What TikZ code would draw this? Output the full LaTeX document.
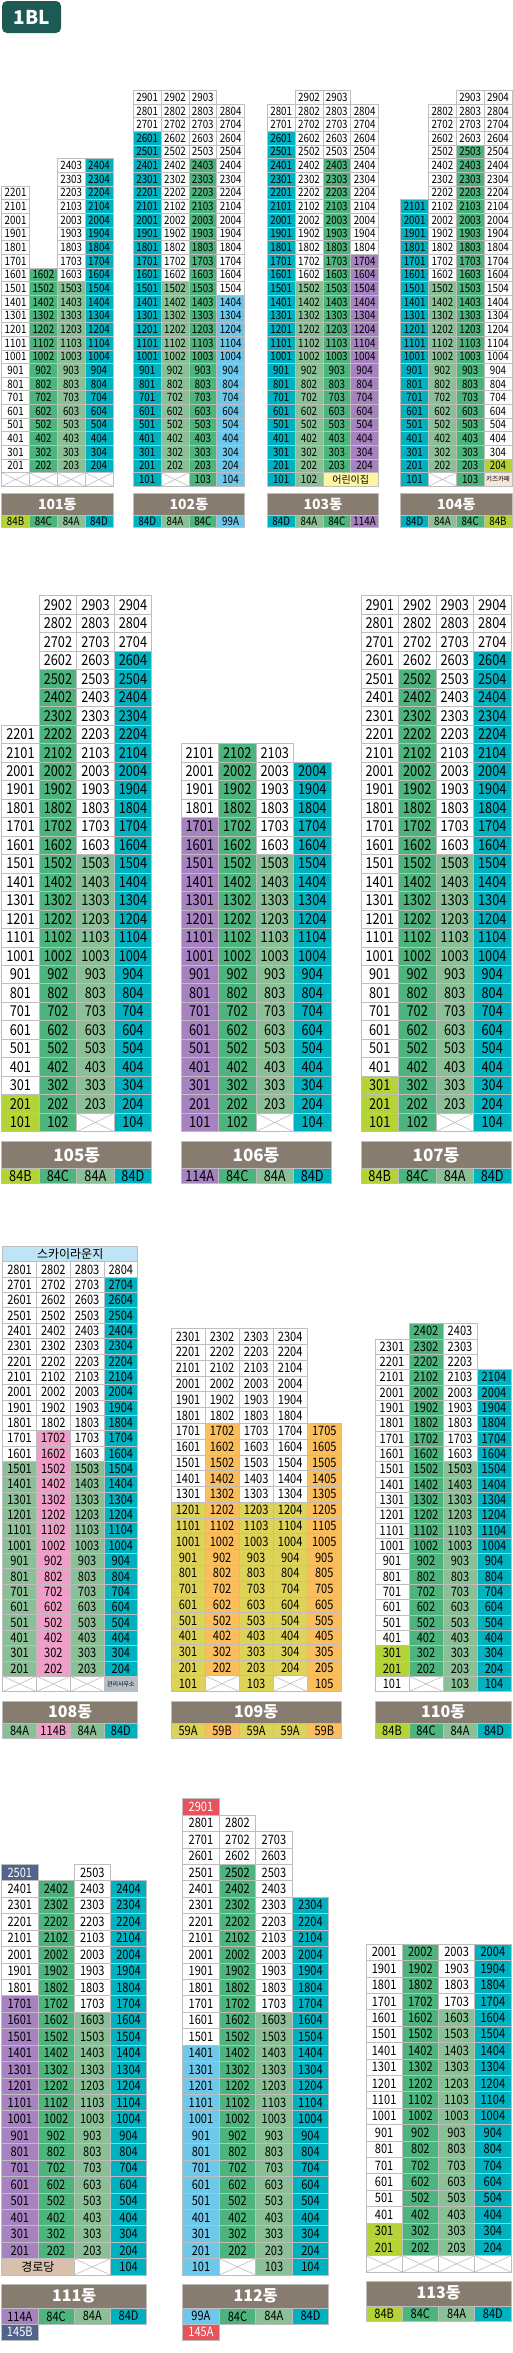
\documentclass[tikz,border=0pt]{standalone}
\usepackage{fontspec}
\setmainfont{Noto Sans CJK KR}
\newfontfamily\numfont[FakeStretch=0.85]{Noto Sans CJK KR}
\usetikzlibrary{positioning}

% unit type colours
\definecolor{t84A}{RGB}{139,191,150}
\definecolor{t84B}{RGB}{180,211,55}
\definecolor{t84C}{RGB}{76,180,124}
\definecolor{t84D}{RGB}{0,177,192}
\definecolor{t99A}{RGB}{110,200,235}
\definecolor{t114A}{RGB}{166,130,192}
\definecolor{t114B}{RGB}{240,157,200}
\definecolor{t59A}{RGB}{221,211,88}
\definecolor{t59B}{RGB}{250,190,92}
\definecolor{t145A}{RGB}{232,82,90}
\definecolor{t145B}{RGB}{80,100,140}
\definecolor{cellline}{RGB}{190,190,190}
\definecolor{dongbg}{RGB}{135,124,112}
\definecolor{badgebg}{RGB}{30,90,84}
\definecolor{daycare}{RGB}{255,245,160}
\definecolor{kidscafe}{RGB}{248,230,220}
\definecolor{seniors}{RGB}{216,192,172}
\definecolor{lounge}{RGB}{190,228,246}
\definecolor{office}{RGB}{182,190,198}

% building: id, left x, bottom y, cell width, cell height, columns, font size
\newcommand\bset[7]{\def\bid{#1}\def\bx{#2}\def\by{#3}\def\bw{#4}\def\bh{#5}\def\bn{#6}\def\fs{#7}}
% column of units: column, lowest floor, highest floor, line, colour
\newcommand\ucol[5]{%
  \foreach \f in {#2,...,#3}{%
    \node[unit=#5] (u\bid-\f#4) at ({\bx+(#1-0.5)*\bw},{\by-(\f-0.5)*\bh}) {\f#4};}}
% crossed out (pilotis) cell: column, floor
\newcommand\xcell[2]{%
  \node[unit=white] (x\bid-#2-#1) at ({\bx+(#1-0.5)*\bw},{\by-(#2-0.5)*\bh}) {};
  \draw[xline] (x\bid-#2-#1.north west) -- (x\bid-#2-#1.south east)
               (x\bid-#2-#1.south west) -- (x\bid-#2-#1.north east);}
% cell over several columns: first col, last col, floor, colour, text
\newcommand\scell[5]{%
  \pgfmathsetmacro\spanw{(#2-#1+1)*\bw}
  \node[unit=#4,minimum width=\spanw pt] (s\bid-#3#1) at ({\bx+(#1+#2-1)/2*\bw},{\by-(#3-0.5)*\bh}) {#5};}
% building label: text, top, height, font size
\newcommand\dong[4]{%
  \pgfmathsetmacro\labw{\bn*\bw}
  \node[donglabel,minimum width=\labw pt,minimum height=#3 pt,
        font=\bfseries\fontsize{#4}{#4}\selectfont] (d\bid) at ({\bx+\labw/2},{#2+#3/2}) {#1};}
% row of unit types: top, height, list
\newcommand\types[3]{%
  \foreach \tp [count=\i] in {#3}{%
    \node[typebox=t\tp,minimum height=#2 pt] (t\bid-\i) at ({\bx+(\i-0.5)*\bw},{#1+#2/2}) {\tp};}}

\begin{document}
\begin{tikzpicture}[x=1pt,y=-1pt]
\tikzset{
    %one apartment unit
    unit/.style={
           rectangle,
           draw=cellline, line width=0.6pt,
           fill=#1,
           inner sep=0pt, outer sep=0pt,
           minimum width=\bw pt,
           minimum height=\bh pt,
           font=\numfont\fontsize{\fs}{\fs}\selectfont},
    %cross in empty cells
    xline/.style={draw=cellline, line width=0.6pt},
    %building name bar
    donglabel/.style={
           rectangle,
           draw=cellline, line width=0.6pt,
           fill=dongbg, text=white,
           inner sep=0pt, outer sep=0pt},
    %unit type boxes under the name
    typebox/.style={
           unit=#1,
           minimum height=12pt},
    badge/.style={
           rectangle,
           rounded corners=5pt,
           fill=badgebg, text=white,
           minimum width=59pt,
           minimum height=32pt,
           font=\bfseries\fontsize{19}{19}\selectfont}
}
\useasboundingbox (0,0) rectangle (512,2353);

\node[badge] (bl) at (31.5,17) {1BL};

%%%% 101
\bset{101}{1.7}{486.3}{27.8}{13.65}{4}{11.5}
\ucol{1}{2}{22}{01}{white}
\ucol{2}{2}{16}{02}{t84C}
\ucol{3}{16}{24}{03}{white}
\ucol{3}{2}{15}{03}{t84A}
\ucol{4}{2}{24}{04}{t84D}
\foreach \col in {1,...,4}{\xcell{\col}{1}}
\dong{101동}{493.3}{22}{14}
\types{515.3}{12}{84B,84C,84A,84D}

%%%% 102
\bset{102}{133.3}{486.3}{27.8}{13.65}{4}{11.5}
\ucol{1}{27}{29}{01}{white}
\ucol{1}{1}{26}{01}{t84D}
\ucol{2}{16}{29}{02}{white}
\ucol{2}{2}{15}{02}{t84A}
\xcell{2}{1}
\ucol{3}{25}{29}{03}{white}
\ucol{3}{1}{24}{03}{t84C}
\ucol{4}{15}{28}{04}{white}
\ucol{4}{1}{14}{04}{t99A}
\dong{102동}{493.3}{22}{14}
\types{515.3}{12}{84D,84A,84C,99A}

%%%% 103
\bset{103}{267.3}{486.3}{27.8}{13.65}{4}{11.5}
\ucol{1}{27}{28}{01}{white}
\ucol{1}{1}{26}{01}{t84D}
\ucol{2}{16}{29}{02}{white}
\ucol{2}{1}{15}{02}{t84A}
\ucol{3}{25}{29}{03}{white}
\ucol{3}{2}{24}{03}{t84C}
\ucol{4}{18}{28}{04}{white}
\ucol{4}{2}{17}{04}{t114A}
\scell{3}{4}{1}{daycare,font={\rmfamily\fontsize{10}{10}\selectfont}}{어린이집}
\dong{103동}{493.3}{22}{14}
\types{515.3}{12}{84D,84A,84C,114A}

%%%% 104
\bset{104}{400.7}{486.3}{27.8}{13.65}{4}{11.5}
\ucol{1}{1}{21}{01}{t84D}
\ucol{2}{16}{28}{02}{white}
\ucol{2}{2}{15}{02}{t84A}
\xcell{2}{1}
\ucol{3}{26}{29}{03}{white}
\ucol{3}{1}{25}{03}{t84C}
\ucol{4}{3}{29}{04}{white}
\ucol{4}{2}{2}{04}{t84B}
\scell{4}{4}{1}{kidscafe,font={\rmfamily\fontsize{6.5}{6.5}\selectfont}}{키즈카페}
\dong{104동}{493.3}{22}{14}
\types{515.3}{12}{84D,84A,84C,84B}

%%%% 105
\bset{105}{1.7}{1131.7}{37.5}{18.49}{4}{15}
\ucol{1}{3}{22}{01}{white}
\ucol{1}{1}{2}{01}{t84B}
\ucol{2}{26}{29}{02}{white}
\ucol{2}{1}{25}{02}{t84C}
\ucol{3}{16}{29}{03}{white}
\ucol{3}{2}{15}{03}{t84A}
\xcell{3}{1}
\ucol{4}{27}{29}{04}{white}
\ucol{4}{1}{26}{04}{t84D}
\dong{105동}{1141.4}{27.2}{17}
\types{1168.6}{15}{84B,84C,84A,84D}

%%%% 106
\bset{106}{181}{1131.7}{37.5}{18.49}{4}{15}
\ucol{1}{18}{21}{01}{white}
\ucol{1}{1}{17}{01}{t114A}
\ucol{2}{1}{21}{02}{t84C}
\ucol{3}{16}{21}{03}{white}
\ucol{3}{2}{15}{03}{t84A}
\xcell{3}{1}
\ucol{4}{1}{20}{04}{t84D}
\dong{106동}{1141.4}{27.2}{17}
\types{1168.6}{15}{114A,84C,84A,84D}

%%%% 107
\bset{107}{361}{1131.7}{37.5}{18.49}{4}{15}
\ucol{1}{4}{29}{01}{white}
\ucol{1}{1}{3}{01}{t84B}
\ucol{2}{26}{29}{02}{white}
\ucol{2}{1}{25}{02}{t84C}
\ucol{3}{16}{29}{03}{white}
\ucol{3}{2}{15}{03}{t84A}
\xcell{3}{1}
\ucol{4}{27}{29}{04}{white}
\ucol{4}{1}{26}{04}{t84D}
\dong{107동}{1141.4}{27.2}{17}
\types{1168.6}{15}{84B,84C,84A,84D}

%%%% 108
\bset{108}{2.7}{1691.5}{33.75}{15.35}{4}{13}
\scell{1}{4}{29}{lounge,font={\rmfamily\fontsize{12}{12}\selectfont}}{스카이라운지}
\ucol{1}{16}{28}{01}{white}
\ucol{1}{2}{15}{01}{t84A}
\ucol{2}{18}{28}{02}{white}
\ucol{2}{2}{17}{02}{t114B}
\ucol{3}{16}{28}{03}{white}
\ucol{3}{2}{15}{03}{t84A}
\ucol{4}{28}{28}{04}{white}
\ucol{4}{2}{27}{04}{t84D}
\foreach \col in {1,2,3}{\xcell{\col}{1}}
\scell{4}{4}{1}{office,font={\rmfamily\fontsize{6}{6}\selectfont}}{관리사무소}
\dong{108동}{1700.9}{22.6}{16}
\types{1723.5}{14.5}{84A,114B,84A,84D}

%%%% 109
\bset{109}{171}{1691.5}{34.06}{15.78}{5}{13}
\ucol{1}{13}{23}{01}{white}
\ucol{1}{1}{12}{01}{t59A}
\ucol{2}{18}{23}{02}{white}
\ucol{2}{2}{17}{02}{t59B}
\xcell{2}{1}
\ucol{3}{13}{23}{03}{white}
\ucol{3}{1}{12}{03}{t59A}
\ucol{4}{13}{23}{04}{white}
\ucol{4}{2}{12}{04}{t59A}
\xcell{4}{1}
\ucol{5}{1}{17}{05}{t59B}
\dong{109동}{1700.9}{22.6}{16}
\types{1723.5}{14.5}{59A,59B,59A,59A,59B}

%%%% 110
\bset{110}{375}{1691.5}{34}{15.33}{4}{13}
\ucol{1}{4}{23}{01}{white}
\ucol{1}{2}{3}{01}{t84B}
\ucol{1}{1}{1}{01}{white}
\ucol{2}{2}{24}{02}{t84C}
\xcell{2}{1}
\ucol{3}{16}{24}{03}{white}
\ucol{3}{1}{15}{03}{t84A}
\ucol{4}{1}{21}{04}{t84D}
\dong{110동}{1700.9}{22.6}{16}
\types{1723.5}{14.5}{84B,84C,84A,84D}

%%%% 111
\bset{111}{1.7}{2275}{36.25}{16.43}{4}{13}
\ucol{1}{25}{25}{01}{t145B,text=white}
\ucol{1}{18}{24}{01}{white}
\ucol{1}{2}{17}{01}{t114A}
\scell{1}{2}{1}{seniors,font={\rmfamily\fontsize{12}{12}\selectfont}}{경로당}
\ucol{2}{2}{24}{02}{t84C}
\ucol{3}{17}{25}{03}{white}
\ucol{3}{2}{16}{03}{t84A}
\xcell{3}{1}
\ucol{4}{1}{24}{04}{t84D}
\dong{111동}{2283.8}{24.7}{16}
\types{2308.5}{15.5}{114A,84C,84A,84D}
\node[typebox=t145B,text=white,minimum height=16pt,below=0pt of t111-1] (t111-x) {145B};

%%%% 112
\bset{112}{182.7}{2275}{36.5}{16.43}{4}{13}
\ucol{1}{29}{29}{01}{t145A,text=white}
\ucol{1}{15}{28}{01}{white}
\ucol{1}{1}{14}{01}{t99A}
\ucol{2}{26}{28}{02}{white}
\ucol{2}{2}{25}{02}{t84C}
\xcell{2}{1}
\ucol{3}{17}{27}{03}{white}
\ucol{3}{1}{16}{03}{t84A}
\ucol{4}{1}{23}{04}{t84D}
\dong{112동}{2283.8}{24.7}{16}
\types{2308.5}{15.5}{99A,84C,84A,84D}
\node[typebox=t145A,text=white,minimum height=16pt,below=0pt of t112-1] (t112-x) {145A};

%%%% 113
\bset{113}{366}{2272}{36.25}{16.4}{4}{13}
\ucol{1}{4}{20}{01}{white}
\ucol{1}{2}{3}{01}{t84B}
\ucol{2}{2}{20}{02}{t84C}
\ucol{3}{17}{20}{03}{white}
\ucol{3}{2}{16}{03}{t84A}
\ucol{4}{2}{20}{04}{t84D}
\foreach \col in {1,...,4}{\xcell{\col}{1}}
\dong{113동}{2280.8}{25}{16}
\types{2305.8}{15.5}{84B,84C,84A,84D}

\end{tikzpicture}
\end{document}
